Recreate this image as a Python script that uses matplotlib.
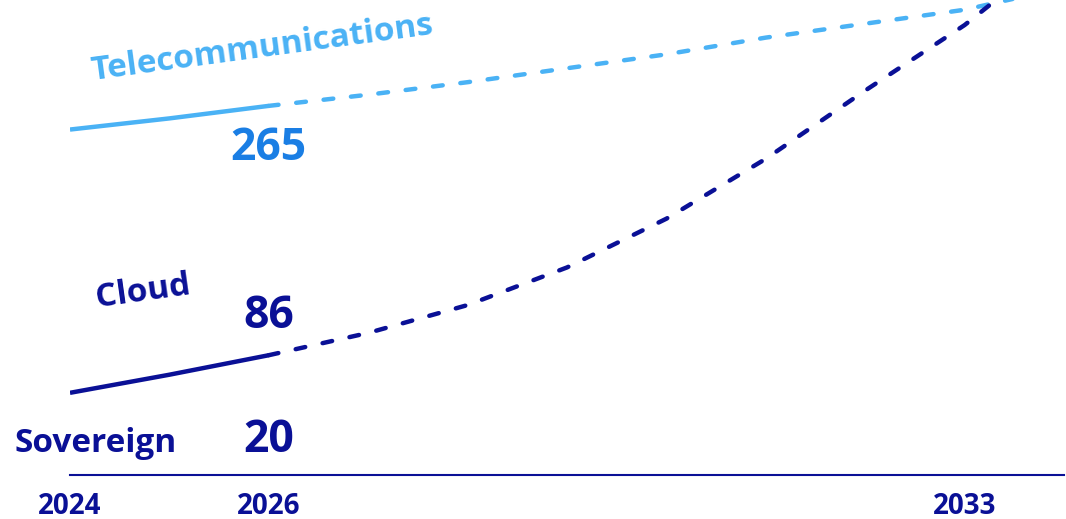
import matplotlib
matplotlib.use("Agg")
import matplotlib.pyplot as plt
from matplotlib import font_manager

# values (market size, per year)
years_actual = [2024, 2025, 2026]
years_fcst = [2026, 2027, 2028, 2029, 2030, 2031, 2032, 2033, 2034]

telecom_actual = [248, 256, 265]
telecom_fcst = [265, 273, 282, 292, 302, 314, 324, 334, 350]

cloud_actual = [59, 72, 86]
cloud_fcst = [86, 102, 122, 149, 184, 227, 276, 323, 380]

labels = ["Telecommunications", "Cloud", "Sovereign"]
values_2026 = ["265", "86", "20"]
tick_years = [2024, 2026, 2033]

light_blue = "#4AB2F5"
mid_blue = "#1A7EE4"
navy = "#0A1096"

# pick a family that really has a bold face
fam = 'DejaVu Sans'
for cand in ['Noto Sans', 'Open Sans', 'Lato', 'Roboto', 'Liberation Sans']:
    for f in font_manager.fontManager.ttflist:
        if f.name == cand and f.weight in (700, 'bold') and f.style == 'normal':
            fam = cand
            break
    if fam != 'DejaVu Sans':
        break
plt.rcParams['font.family'] = [fam, 'DejaVu Sans']
plt.rcParams['font.weight'] = 'bold'

fig = plt.figure(figsize=(10.66, 5.19), dpi=100)
ax = fig.add_axes([70/1066, 44/519, 994/1066, 475/519])

lw = 3.2
ax.plot(years_actual, telecom_actual, color=light_blue, lw=lw, solid_capstyle='butt')
l1, = ax.plot(years_fcst, telecom_fcst, color=light_blue, lw=lw, dash_capstyle='round')
l1.set_dashes((2.2, 4.0))
ax.plot(years_actual, cloud_actual, color=navy, lw=lw, solid_capstyle='butt')
l2, = ax.plot(years_fcst, cloud_fcst, color=navy, lw=lw, dash_capstyle='round')
l2.set_dashes((2.2, 4.0))

ax.set_xlim(2024, 2034)
ax.set_ylim(0, 341)

for s in ['top', 'right', 'left']:
    ax.spines[s].set_visible(False)
ax.spines['bottom'].set_color(navy)
ax.spines['bottom'].set_linewidth(1.5)
ax.set_yticks([])
ax.set_xticks(tick_years)
ax.set_xticklabels([str(y) for y in tick_years], fontsize=20, fontweight='bold', color=navy)
ax.tick_params(axis='x', length=0, pad=12)

# series names
ax.text(2024.23, 283.6, labels[0], color=light_blue, fontsize=24, fontweight='bold',
        rotation=7.7, rotation_mode='anchor', ha='left', va='baseline')
ax.text(2024.27, 120.6, labels[1], color=navy, fontsize=24, fontweight='bold',
        rotation=8, rotation_mode='anchor', ha='left', va='baseline')
ax.text(2023.44, 16.5, labels[2], color=navy, fontsize=24, fontweight='bold',
        ha='left', va='baseline', clip_on=False)

# 2026 values
ax.text(2026, 226, values_2026[0], color=mid_blue, fontsize=32, fontweight='bold',
        ha='center', va='baseline')
ax.text(2026, 105.5, values_2026[1], color=navy, fontsize=32, fontweight='bold',
        ha='center', va='baseline')
ax.text(2026, 16.5, values_2026[2], color=navy, fontsize=32, fontweight='bold',
        ha='center', va='baseline')

fig.savefig("out.png", dpi=100)
